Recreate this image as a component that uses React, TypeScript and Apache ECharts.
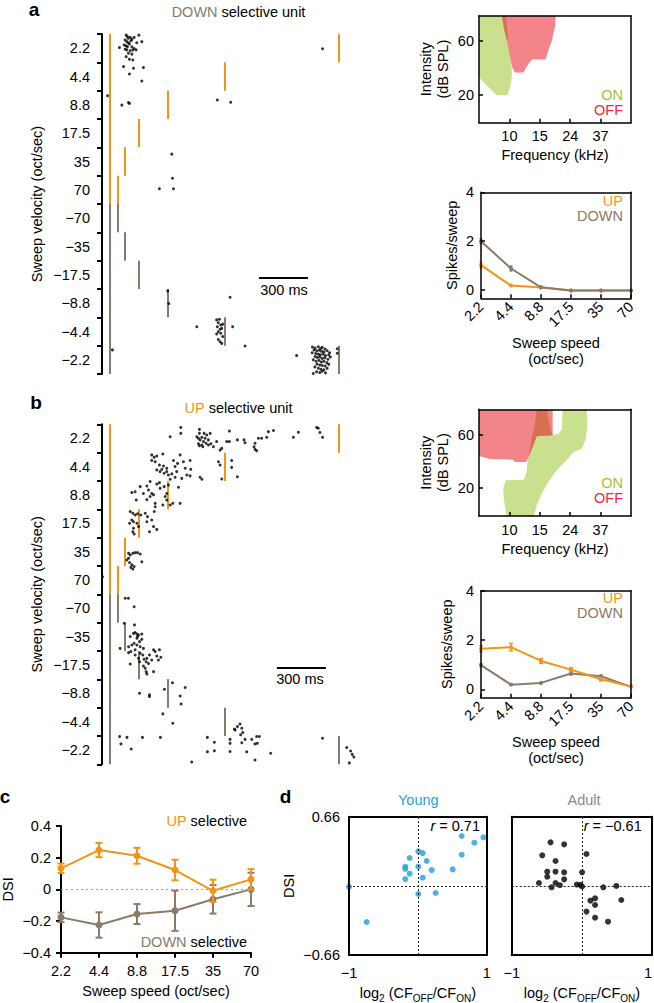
import React, { useEffect, useRef } from 'react';
import * as echarts from 'echarts';

const FONT = '"Liberation Sans", Arial, Helvetica, sans-serif';
const FS = 14.5;
const ORANGE = '#f39419';
const BROWN = '#8b7a69';
const GREEN = '#c9e08e';
const PINK = '#f2848a';
const OVERLAP = '#d96f52';
const ON_GREEN = '#9cc43a';
const OFF_RED = '#eb2a3c';
const BLUE = '#1f9fe0';
const GREY = '#8a8a8a';

// ---------- raster (panels a, b) ----------
const velocityLabels = ['2.2', '4.4', '8.8', '17.5', '35', '70', '−70', '−35', '−17.5', '−8.8', '−4.4', '−2.2'];
const sweepDurationMs = [1400, 700, 350, 175, 87.5, 43.75, 43.75, 87.5, 175, 350, 700, 1400];
const scaleBarMs = 300;
const scaleBarA = [912, 8.6];
const scaleBarB = [1022, 8.6];

// spikes per row: [time ms, position within row 0..1]
const rasterA: number[][][] = [
  [[98, 0.04], [106, 0.09], [123, 0.12], [147, 0.12], [176, 0.04], [92, 0.21], [102, 0.27], [112, 0.31], [127, 0.24], [163, 0.31], [194, 0.27], [86, 0.39], [98, 0.42], [118, 0.35], [133, 0.45], [147, 0.51], [57, 0.48], [102, 0.56], [123, 0.59], [139, 0.56], [159, 0.56], [112, 0.68], [133, 0.71], [98, 0.8], [118, 0.89], [139, 0.92], [110, 0.15], [133, 0.19], [92, 0.54], [106, 0.45], [1302, 0.52]],
  [[82, 0.15], [143, 0.21], [204, 0.18], [118, 0.41], [194, 0.66]],
  [[-16, 0.18], [72, 0.51], [112, 0.42], [118, 0.45], [657, 0.33], [739, 0.41]],
  [],
  [[378, 0.24]],
  [[382, 0.09], [302, 0.46], [388, 0.46]],
  [],
  [],
  [],
  [[353, 0.07], [359, 0.51], [735, 0.29]],
  [[653, 0.09], [670, 0.07], [663, 0.19], [678, 0.27], [690, 0.24], [657, 0.33], [674, 0.42], [684, 0.39], [663, 0.51], [678, 0.56], [690, 0.68], [663, 0.78], [674, 0.86], [684, 0.92], [653, 0.59], [531, 0.33], [751, 0.33]],
  [[827, 0.01], [14, 0.15], [1143, 0.35], [1392, 0.11], [1392, 0.27],
    [1240, 0.05], [1256, 0.08], [1276, 0.04], [1290, 0.1], [1300, 0.06], [1317, 0.12], [1250, 0.15], [1266, 0.18], [1282, 0.16], [1296, 0.2], [1310, 0.22], [1330, 0.18], [1345, 0.25], [1238, 0.25], [1260, 0.28], [1276, 0.3], [1288, 0.32], [1305, 0.3], [1320, 0.35], [1340, 0.33], [1256, 0.38], [1270, 0.42], [1285, 0.4], [1300, 0.45], [1316, 0.43], [1335, 0.48], [1350, 0.4], [1245, 0.5], [1262, 0.55], [1280, 0.52], [1295, 0.58], [1310, 0.55], [1328, 0.6], [1268, 0.65], [1285, 0.68], [1300, 0.7], [1318, 0.72], [1340, 0.66], [1255, 0.75], [1276, 0.8], [1292, 0.83], [1310, 0.85], [1330, 0.8], [1265, 0.92], [1285, 0.95], [1300, 0.9], [1320, 0.96], [1245, 0.98]],
];

const rasterB: number[][][] = [
  [[433, 0.11], [433, 0.32], [368, 0.44], [547, 0.18], [547, 0.32], [531, 0.44], [551, 0.55], [541, 0.69], [562, 0.73], [572, 0.61], [582, 0.49], [592, 0.38], [613, 0.32], [602, 0.55], [617, 0.69], [633, 0.79], [653, 0.61], [674, 0.91], [684, 0.85], [731, 0.24], [715, 0.61], [731, 0.61], [780, 0.55], [821, 0.55], [827, 0.65], [888, 0.67], [882, 0.79], [888, 0.88], [898, 0.93], [909, 0.49], [929, 0.49], [960, 0.46], [970, 0.26], [1001, 0.22], [1123, 0.46], [1154, 0.28], [1266, 0.11], [1276, 0.14], [1286, 0.29], [1302, 0.46], [541, 0.49], [588, 0.67], [602, 0.73], [562, 0.46], [576, 0.32], [547, 0.76], [568, 0.79]],
  [[255, 0.08], [270, 0.16], [286, 0.12], [323, 0.05], [429, 0.08], [255, 0.28], [276, 0.32], [302, 0.44], [327, 0.47], [347, 0.55], [388, 0.28], [398, 0.49], [413, 0.38], [449, 0.32], [490, 0.28], [460, 0.55], [494, 0.59], [470, 0.79], [490, 0.82], [286, 0.61], [306, 0.67], [331, 0.73], [357, 0.79], [378, 0.75], [398, 0.87], [368, 0.94], [439, 0.91], [551, 0.87], [562, 0.94], [664, 0.32], [674, 0.44], [684, 0.93], [745, 0.28], [745, 0.52], [780, 0.85], [317, 0.59], [347, 0.67], [408, 0.67]],
  [[184, 0.2], [225, 0.18], [133, 0.41], [153, 0.38], [204, 0.44], [245, 0.02], [235, 0.32], [255, 0.44], [266, 0.49], [160, 0.67], [225, 0.66], [245, 0.55], [276, 0.79], [286, 0.11], [302, 0.06], [306, 0.26], [331, 0.2], [357, 0.14], [347, 0.44], [419, 0.22], [429, 0.79], [347, 0.67], [368, 0.85], [384, 0.79], [276, 0.91], [323, 0.85], [337, 0.55]],
  [[123, 0.08], [139, 0.14], [153, 0.2], [168, 0.16], [188, 0.2], [133, 0.38], [143, 0.44], [119, 0.49], [164, 0.49], [174, 0.61], [143, 0.67], [139, 0.79], [147, 0.87], [215, 0.14], [229, 0.26], [225, 0.44], [255, 0.38], [266, 0.61], [241, 0.79], [286, 0.71], [270, 0.08]],
  [[113, 0.55], [123, 0.61], [139, 0.55], [153, 0.53], [168, 0.53], [184, 0.58], [194, 0.85], [102, 0.79], [119, 0.88], [133, 0.96], [113, 0.73]],
  [[-47, 0.38], [127, 0.05], [139, 0.11], [147, 0.02]],
  [[92, 0.14], [112, 0.14], [147, 0.44]],
  [[86, 0.02], [149, 0.08], [143, 0.38], [153, 0.35], [164, 0.4], [174, 0.44], [194, 0.4], [123, 0.49], [164, 0.55], [180, 0.67], [194, 0.59], [133, 0.79], [147, 0.73], [164, 0.79], [61, 0.91], [184, 0.85], [204, 0.91], [153, 0.96], [113, 0.85], [168, 0.49], [266, 0.96], [302, 0.96]],
  [[113, 0.06], [127, 0.02], [184, 0.08], [200, 0.14], [225, 0.26], [241, 0.14], [276, 0.02], [286, 0.18], [311, 0.22], [296, 0.32], [255, 0.32], [208, 0.29], [221, 0.38], [235, 0.44], [204, 0.53], [215, 0.61], [221, 0.73], [225, 0.81], [266, 0.73], [123, 0.46], [174, 0.26], [153, 0.14], [180, 0.38]],
  [[333, 0.35], [382, 0.12], [460, 0.29], [429, 0.59], [435, 0.87], [180, 0.49], [241, 0.55], [241, 0.61]],
  [[323, 0.22], [384, 0.55], [766, 0.79], [780, 0.67], [796, 0.58], [807, 0.73], [813, 0.88], [800, 0.96], [762, 0.76]],
  [[58, 0.02], [103, 0.05], [66, 0.28], [129, 0.46], [198, 0.05], [308, 0.05], [500, 0.92], [596, 0.05], [596, 0.56], [639, 0.22], [639, 0.52], [735, 0.12], [735, 0.26], [735, 0.55], [807, 0.24], [827, 0.12], [837, 0.56], [868, 0.12], [898, 0.02], [915, 0.02], [888, 0.28], [902, 0.26], [888, 0.85], [984, 0.61], [1302, 0.08], [1450, 0.41], [1474, 0.53], [1484, 0.65], [1494, 0.74], [1466, 0.95]],
];

// ---------- tuning curves (frequency position, dB SPL) ----------
const freqTickPos = [1, 2, 3, 4];
const freqTickLabels = ['10', '15', '24', '37'];
const dbTicks = [20, 60];

const onAreaA = [[0, 79], [0.888, 79], [0.921, 70.75], [0.954, 61.25], [0.998, 53.25], [1.053, 44.5], [1.086, 37], [1.064, 30.75], [1.02, 25.25], [0.932, 19.5], [0.58, 19.5], [0.417, 23.25], [0.25, 27], [0.088, 30.75], [0, 32.75]];
const offAreaA = [[0.757, 79], [2.522, 79], [2.51, 72], [2.445, 65.75], [2.39, 59.5], [2.28, 53.25], [2.193, 46.25], [1.754, 46.25], [1.678, 44.5], [1.568, 40.75], [1.458, 36.5], [1.184, 36.5], [1.107, 39.5], [1.042, 45.75], [0.976, 53.25], [0.91, 61.25], [0.822, 69.5], [0.779, 75.75]];
const bothAreaA = [[0.757, 79], [0.888, 79], [0.921, 70.75], [0.954, 61.25], [0.91, 61.25], [0.822, 69.5], [0.779, 75.75]];

const offAreaB = [[0, 78.75], [2.423, 78.75], [2.423, 59.5], [1.897, 58.75], [1.787, 52], [1.645, 43.75], [1.546, 39.5], [1.184, 39.5], [1.107, 41.25], [0.362, 41.75], [0.033, 43.75], [0, 43.75]];
const onAreaB = [[1.897, 78.75], [2.226, 78.75], [2.357, 63.25], [2.445, 59.5], [2.61, 60.75], [2.72, 63.75], [2.752, 78.75], [3.542, 78.75], [3.564, 68.25], [3.52, 57], [3.377, 49.5], [3.103, 47], [2.884, 40.75], [2.555, 33.25], [2.28, 24.5], [2.061, 15.75], [1.897, 7], [1.809, -1], [0.91, -1], [0.822, 10.75], [0.8, 20.25], [0.888, 25.75], [1.48, 26.25], [1.568, 32], [1.601, 43.25], [1.699, 53.25], [1.82, 65.75]];
const bothAreaB = [[1.897, 78.75], [2.226, 78.75], [2.357, 63.25], [2.423, 59.5], [1.897, 58.75], [1.787, 52], [1.645, 43.75], [1.699, 53.25], [1.82, 65.75]];

// ---------- spikes / sweep ----------
const speedLabels = ['2.2', '4.4', '8.8', '17.5', '35', '70'];
const spikeTicks = [0, 2, 4];
const upSpikesA = [1.02, 0.18, 0.1, -0.02, -0.02, -0.02];
const upSpikesAErr = [0.12, 0.03, 0.02, 0.01, 0.01, 0.01];
const downSpikesA = [2.0, 0.88, 0.11, -0.02, -0.02, -0.02];
const downSpikesAErr = [0.1, 0.1, 0.03, 0.01, 0.01, 0.01];
const upSpikesB = [1.65, 1.71, 1.15, 0.8, 0.41, 0.12];
const upSpikesBErr = [0.12, 0.15, 0.1, 0.08, 0.07, 0.03];
const downSpikesB = [0.98, 0.19, 0.26, 0.64, 0.53, 0.1];
const downSpikesBErr = [0.06, 0.03, 0.03, 0.06, 0.05, 0.02];

// ---------- DSI (panel c) ----------
const dsiUp = [0.133, 0.248, 0.212, 0.122, -0.009, 0.063];
const dsiUpErr = [0.03, 0.045, 0.05, 0.065, 0.07, 0.065];
const dsiDown = [-0.177, -0.225, -0.156, -0.135, -0.063, 0];
const dsiDownErr = [0.03, 0.08, 0.063, 0.127, 0.09, 0.105];

// ---------- DSI vs CF (panel d) ----------
const youngPts = [[-1.0, -0.01], [-0.743, -0.345], [0.637, 0.476], [0.821, 0.412], [0.952, 0.463], [0.637, 0.297], [0.506, 0.157], [0.259, -0.068], [0.007, 0.329], [0.07, 0.313], [0.128, 0.237], [0.007, 0.183], [0.201, 0.151], [0.07, 0.078], [0.007, -0.078], [-0.119, 0.266], [-0.182, 0.183], [-0.182, 0.161], [-0.119, 0.116], [-0.182, 0.065]];
const adultPts = [[-0.447, 0.415], [-0.253, 0.396], [-0.565, 0.291], [-0.376, 0.237], [0.064, 0.304], [-0.494, 0.135], [-0.376, 0.135], [-0.253, 0.129], [-0.494, 0.087], [0.002, 0.129], [-0.253, 0.062], [-0.612, 0.027], [-0.376, 0.027], [-0.433, -0.014], [-0.314, 0.006], [-0.073, 0.012], [0.002, -0.006], [-0.02, 0.01], [0.305, -0.014], [0.489, -0.001], [0.56, -0.135], [0.187, -0.119], [0.121, -0.141], [0.187, -0.183], [0.064, -0.246], [0.187, -0.304], [0.371, -0.342]];
const youngR = '0.71';
const adultR = '−0.61';

// ---------- helpers ----------
const blk = '#000';
const lblStyle = (extra: any = {}) => ({ color: blk, fontSize: FS, fontFamily: FONT, ...extra });
const nameStyle = (extra: any = {}) => ({ color: blk, fontSize: FS, fontFamily: FONT, ...extra });
const fmtMinus = (s: string) => s.replace('-', '−');

const frameAxis = (gridIndex: number, position: string, width = 1.5) => ({
  gridIndex, type: 'value', position, min: 0, max: 1, z: 10,
  axisLine: { show: true, onZero: false, lineStyle: { color: blk, width } },
  axisTick: { show: false }, axisLabel: { show: false }, splitLine: { show: false },
});

const rasterPoints = (rows: number[][][]) => rows.flatMap((row, r) => row.map(([t, f]) => [t, r + f]));
const stimLines = () => {
  const out: any[] = [
    { coords: [[0, 0], [0, 6]], lineStyle: { color: ORANGE } },
    { coords: [[0, 6], [0, 12]], lineStyle: { color: BROWN } },
  ];
  sweepDurationMs.forEach((d, r) => out.push({ coords: [[d, r], [d, r + 1]], lineStyle: { color: r < 6 ? ORANGE : BROWN } }));
  return out;
};

const rasterSeries = (rows: number[][][], xi: number, yi: number, bar: number[]) => [
  { type: 'lines', coordinateSystem: 'cartesian2d', xAxisIndex: xi, yAxisIndex: yi, silent: true, z: 2,
    lineStyle: { width: 2, opacity: 1, curveness: 0 }, data: stimLines() },
  { type: 'lines', coordinateSystem: 'cartesian2d', xAxisIndex: xi, yAxisIndex: yi, silent: true, z: 2,
    lineStyle: { width: 2, opacity: 1, color: blk, curveness: 0 },
    data: [{ coords: [[bar[0], bar[1]], [bar[0] + scaleBarMs, bar[1]]] }] },
  { type: 'scatter', xAxisIndex: xi, yAxisIndex: yi, silent: true, z: 3, symbol: 'circle', symbolSize: 3,
    itemStyle: { color: blk }, data: rasterPoints(rows) },
];

const polySeries = (verts: number[][], color: string, xi: number, yi: number, z: number) => ({
  type: 'custom', xAxisIndex: xi, yAxisIndex: yi, silent: true, z,
  data: [[verts[0][0], verts[0][1]]],
  renderItem: (_p: any, api: any) => ({
    type: 'polygon', shape: { points: verts.map((v) => api.coord(v)) }, style: { fill: color },
  }),
});

const errSeries = (vals: number[], errs: number[], color: string, xi: number, yi: number, cap: number, lw: number, z: number) => ({
  type: 'custom', xAxisIndex: xi, yAxisIndex: yi, silent: true, z,
  data: vals.map((v, i) => [i, v, errs[i]]),
  encode: { x: 0, y: 1 },
  renderItem: (_p: any, api: any) => {
    const x = api.value(0), y = api.value(1), e = api.value(2);
    const p1 = api.coord([x, y + e]);
    const p2 = api.coord([x, y - e]);
    const st = { stroke: color, lineWidth: lw };
    return {
      type: 'group', children: [
        { type: 'line', shape: { x1: p1[0], y1: p1[1], x2: p2[0], y2: p2[1] }, style: st },
        { type: 'line', shape: { x1: p1[0] - cap, y1: p1[1], x2: p1[0] + cap, y2: p1[1] }, style: st },
        { type: 'line', shape: { x1: p2[0] - cap, y1: p2[1], x2: p2[0] + cap, y2: p2[1] }, style: st },
      ],
    };
  },
});

const lineSeries = (vals: number[], color: string, xi: number, yi: number, size: number, z: number, extra: any = {}) => ({
  type: 'line', xAxisIndex: xi, yAxisIndex: yi, silent: true, z, data: vals,
  symbol: 'circle', symbolSize: size, showSymbol: true,
  lineStyle: { color, width: 2 }, itemStyle: { color }, ...extra,
});

const T = (x: number, y: number, text: string, o: any = {}) => ({
  type: 'text', x, y, silent: true, z: 100,
  style: {
    text, fill: o.fill || blk,
    font: `${o.italic ? 'italic ' : ''}${o.weight || 'normal'} ${o.size || FS}px ${FONT}`,
    align: o.align || 'center', verticalAlign: 'middle',
    textAlign: o.align || 'center', textVerticalAlign: 'middle',
    rich: o.rich,
  },
});
const richTok = (fill: string, extra: any = {}) => ({ fill, color: fill, fontSize: FS, fontFamily: FONT, ...extra });

// ---------- axes ----------
const rasterY = (gi: number) => [
  { gridIndex: gi, type: 'value', min: 0, max: 12, interval: 1, inverse: true,
    axisLine: { show: true, onZero: false, lineStyle: { color: blk, width: 2 } },
    axisTick: { show: true, length: 5, lineStyle: { color: blk, width: 2 } },
    axisLabel: { show: false }, splitLine: { show: false } },
  { gridIndex: gi, type: 'category', data: velocityLabels, inverse: true, position: 'left',
    axisLine: { show: false }, axisTick: { show: false }, splitLine: { show: false },
    axisLabel: lblStyle({ margin: 12, padding: [6, 0, 0, 0] }),
    name: 'Sweep velocity (oct/sec)', nameLocation: 'middle', nameGap: 58, nameRotate: 90, nameTextStyle: nameStyle() },
];
const rasterX = (gi: number) => ({ gridIndex: gi, type: 'value', min: -50, max: 1550, show: false });

const tuningX = (gi: number) => ({
  gridIndex: gi, type: 'value', min: 0, max: 5, z: 10,
  axisLine: { show: true, onZero: false, lineStyle: { color: blk, width: 1.5 } },
  axisTick: { show: true, inside: true, length: 4, customValues: freqTickPos, lineStyle: { color: blk, width: 1.5 } },
  axisLabel: lblStyle({ margin: 6, customValues: freqTickPos, formatter: (v: number) => freqTickLabels[freqTickPos.indexOf(v)] }),
  splitLine: { show: false },
  name: 'Frequency (kHz)', nameLocation: 'middle', nameGap: 25, nameTextStyle: nameStyle(),
});
const tuningY = (gi: number) => ({
  gridIndex: gi, type: 'value', min: -1, max: 79, z: 10,
  axisLine: { show: true, onZero: false, lineStyle: { color: blk, width: 1.5 } },
  axisTick: { show: true, inside: true, length: 4, customValues: dbTicks, lineStyle: { color: blk, width: 1.5 } },
  axisLabel: lblStyle({ margin: 5, customValues: dbTicks }),
  splitLine: { show: false },
  name: 'Intensity\n(dB SPL)', nameLocation: 'middle', nameGap: 28, nameRotate: 90,
  nameTextStyle: nameStyle({ lineHeight: 17 }),
});
const spikesX = (gi: number) => ({
  gridIndex: gi, type: 'category', data: speedLabels, boundaryGap: false, z: 10,
  axisLine: { show: true, onZero: false, lineStyle: { color: blk, width: 1.5 } },
  axisTick: { show: true, inside: true, length: 4, lineStyle: { color: blk, width: 1.5 } },
  axisLabel: lblStyle({ margin: 6, rotate: 45, interval: 0 }),
  splitLine: { show: false },
  name: 'Sweep speed\n(oct/sec)', nameLocation: 'middle', nameGap: 36, nameTextStyle: nameStyle({ lineHeight: 16.5 }),
});
const spikesY = (gi: number, gap: number) => ({
  gridIndex: gi, type: 'value', min: -0.34, max: 4, z: 10,
  axisLine: { show: true, onZero: false, lineStyle: { color: blk, width: 1.5 } },
  axisTick: { show: true, inside: true, length: 4, customValues: spikeTicks, lineStyle: { color: blk, width: 1.5 } },
  axisLabel: lblStyle({ margin: 7, customValues: spikeTicks }),
  splitLine: { show: false },
  name: 'Spikes/sweep', nameLocation: 'middle', nameGap: gap, nameRotate: 90, nameTextStyle: nameStyle(),
});

const cfName = '{n|log}{s|2}{n| (CF}{s|OFF}{n|/CF}{s|ON}{n|)}';
const cfRich = {
  n: { fontSize: FS, fontFamily: FONT, color: blk, lineHeight: 20 },
  s: { fontSize: 10, fontFamily: FONT, color: blk, verticalAlign: 'bottom', lineHeight: 11 },
};
const dX = (gi: number, alignMax: string) => ({
  gridIndex: gi, type: 'value', min: -1, max: 1, z: 10,
  axisLine: { show: true, onZero: false, lineStyle: { color: blk, width: 2 } },
  axisTick: { show: false },
  axisLabel: lblStyle({ margin: 10, customValues: [-1, 1], alignMaxLabel: alignMax, formatter: (v: number) => fmtMinus(String(v)) }),
  splitLine: { show: false },
  name: cfName, nameLocation: 'middle', nameGap: 28, nameTextStyle: nameStyle({ rich: cfRich }),
});
const dY = (gi: number, labels: boolean) => ({
  gridIndex: gi, type: 'value', min: -0.66, max: 0.66, z: 10,
  axisLine: { show: true, onZero: false, lineStyle: { color: blk, width: 2 } },
  axisTick: { show: true, inside: true, length: 3, customValues: [-0.66, 0.66], lineStyle: { color: blk, width: 1.5 } },
  axisLabel: labels ? lblStyle({ margin: 9, customValues: [-0.66, 0.66], formatter: (v: number) => fmtMinus(v.toFixed(2)) }) : { show: false },
  splitLine: { show: false },
  ...(labels ? { name: 'DSI', nameLocation: 'middle', nameGap: 53, nameRotate: 90, nameTextStyle: nameStyle() } : {}),
});

const zeroMark = (color: string, type: any) => ({
  silent: true, symbol: ['none', 'none'], label: { show: false },
  lineStyle: { color, width: 1, type }, emphasis: { disabled: true },
});

function buildOption(): any {
  const gridBase = { containLabel: false, outerBoundsMode: 'none', show: false };
  const grid = [
    { left: 102, top: 34, width: 261, height: 340 },
    { left: 479, top: 15.7, width: 152, height: 107 },
    { left: 481, top: 192.3, width: 150, height: 106 },
    { left: 102, top: 424.3, width: 261, height: 340 },
    { left: 479, top: 409.3, width: 152, height: 106.7 },
    { left: 481, top: 590.7, width: 150, height: 107 },
    { left: 61, top: 826, width: 190, height: 126.7 },
    { left: 349, top: 816.7, width: 137.7, height: 138.3 },
    { left: 511.7, top: 816.7, width: 140.5, height: 138.3 },
  ].map((g) => ({ ...gridBase, ...g }));

  const xAxis = [
    rasterX(0),
    tuningX(1), frameAxis(1, 'top'),
    spikesX(2), frameAxis(2, 'top'),
    rasterX(3),
    tuningX(4), frameAxis(4, 'top'),
    spikesX(5), frameAxis(5, 'top'),
    {
      gridIndex: 6, type: 'category', data: speedLabels, boundaryGap: false,
      axisLine: { show: true, onZero: false, lineStyle: { color: blk, width: 2 } },
      axisTick: { show: true, length: 5, lineStyle: { color: blk, width: 2 } },
      axisLabel: lblStyle({ margin: 11, interval: 0 }), splitLine: { show: false },
      name: 'Sweep speed (oct/sec)', nameLocation: 'middle', nameGap: 31, nameTextStyle: nameStyle(),
    },
    dX(7, 'center'), frameAxis(7, 'top', 2),
    dX(8, 'right'), frameAxis(8, 'top', 2),
  ];
  const yAxis = [
    ...rasterY(0),
    tuningY(1), frameAxis(1, 'right'),
    spikesY(2, 22), frameAxis(2, 'right'),
    ...rasterY(3),
    tuningY(4), frameAxis(4, 'right'),
    spikesY(5, 27), frameAxis(5, 'right'),
    {
      gridIndex: 6, type: 'value', min: -0.4, max: 0.4, interval: 0.2,
      axisLine: { show: true, onZero: false, lineStyle: { color: blk, width: 2 } },
      axisTick: { show: true, length: 5, lineStyle: { color: blk, width: 2 } },
      axisLabel: lblStyle({ margin: 10, formatter: (v: number) => (Math.abs(v) < 1e-9 ? '0' : fmtMinus(v.toFixed(1))) }),
      splitLine: { show: false },
      name: 'DSI', nameLocation: 'middle', nameGap: 46, nameRotate: 90, nameTextStyle: nameStyle(),
    },
    dY(7, true), frameAxis(7, 'right', 2),
    dY(8, false), frameAxis(8, 'right', 2),
  ];

  const series: any[] = [
    ...rasterSeries(rasterA, 0, 0, scaleBarA),
    polySeries(onAreaA, GREEN, 1, 2, 1),
    polySeries(offAreaA, PINK, 1, 2, 1),
    polySeries(bothAreaA, OVERLAP, 1, 2, 1),
    errSeries(upSpikesA, upSpikesAErr, ORANGE, 3, 4, 1.5, 1.5, 2),
    lineSeries(upSpikesA, ORANGE, 3, 4, 4, 3),
    errSeries(downSpikesA, downSpikesAErr, BROWN, 3, 4, 1.5, 1.5, 4),
    lineSeries(downSpikesA, BROWN, 3, 4, 4, 5),
    ...rasterSeries(rasterB, 5, 6, scaleBarB),
    polySeries(onAreaB, GREEN, 6, 8, 1),
    polySeries(offAreaB, PINK, 6, 8, 1),
    polySeries(bothAreaB, OVERLAP, 6, 8, 1),
    errSeries(downSpikesB, downSpikesBErr, BROWN, 8, 10, 1.5, 1.5, 2),
    lineSeries(downSpikesB, BROWN, 8, 10, 4, 3),
    errSeries(upSpikesB, upSpikesBErr, ORANGE, 8, 10, 2, 1.5, 4),
    lineSeries(upSpikesB, ORANGE, 8, 10, 4, 5),
    errSeries(dsiDown, dsiDownErr, BROWN, 10, 12, 3.5, 2, 2),
    lineSeries(dsiDown, BROWN, 10, 12, 7, 3, {
      markLine: { ...zeroMark('#9a9a9a', [2, 3]), data: [{ yAxis: 0 }] },
    }),
    errSeries(dsiUp, dsiUpErr, ORANGE, 10, 12, 3.5, 2, 4),
    lineSeries(dsiUp, ORANGE, 10, 12, 7, 5),
    {
      type: 'scatter', xAxisIndex: 11, yAxisIndex: 13, silent: true, z: 3, symbolSize: 6,
      itemStyle: { color: BLUE }, data: youngPts,
      markLine: { ...zeroMark('#222', [2, 2]), data: [{ xAxis: 0 }, { yAxis: 0 }] },
    },
    {
      type: 'scatter', xAxisIndex: 13, yAxisIndex: 15, silent: true, z: 3, symbolSize: 6,
      itemStyle: { color: blk }, data: adultPts,
      markLine: { ...zeroMark('#222', [2, 2]), data: [{ xAxis: 0 }, { yAxis: 0 }] },
    },
  ];

  const graphic = [
    T(34, 9, 'a', { size: 19, weight: 'bold' }),
    T(238.5, 12, '{c|DOWN} selective unit', { rich: { c: richTok(BROWN) } }),
    T(284, 290, '300 ms'),
    T(623, 95, 'ON', { align: 'right', fill: ON_GREEN }),
    T(623, 110, 'OFF', { align: 'right', fill: OFF_RED }),
    T(623, 201, 'UP', { align: 'right', fill: ORANGE }),
    T(623, 215.5, 'DOWN', { align: 'right', fill: BROWN }),
    T(36, 402, 'b', { size: 19, weight: 'bold' }),
    T(238.5, 408, '{c|UP} selective unit', { rich: { c: richTok(ORANGE) } }),
    T(300, 679, '300 ms'),
    T(623, 482.8, 'ON', { align: 'right', fill: ON_GREEN }),
    T(623, 497.8, 'OFF', { align: 'right', fill: OFF_RED }),
    T(623, 598, 'UP', { align: 'right', fill: ORANGE }),
    T(623, 612.8, 'DOWN', { align: 'right', fill: BROWN }),
    T(5, 796, 'c', { size: 19, weight: 'bold' }),
    T(247, 821, '{c|UP} selective', { align: 'right', rich: { c: richTok(ORANGE) } }),
    T(247, 941.7, '{c|DOWN} selective', { align: 'right', rich: { c: richTok(BROWN) } }),
    T(285.6, 796, 'd', { size: 19, weight: 'bold' }),
    T(418.3, 800, 'Young', { fill: BLUE }),
    T(584, 800, 'Adult', { fill: GREY }),
    T(480, 826, `{i|r} = ${youngR}`, { align: 'right', rich: { i: richTok(blk, { fontStyle: 'italic' }) } }),
    T(641.7, 826, `{i|r} = ${adultR}`, { align: 'right', rich: { i: richTok(blk, { fontStyle: 'italic' }) } }),
  ];

  return { animation: false, backgroundColor: '#fff', grid, xAxis, yAxis, series, graphic };
}

export default function App() {
  const ref = useRef<HTMLDivElement>(null);
  useEffect(() => {
    const chart = echarts.init(ref.current as HTMLDivElement, undefined, { renderer: 'svg' });
    chart.setOption(buildOption());
    return () => chart.dispose();
  }, []);
  return <div ref={ref} style={{ position: 'absolute', left: 0, top: 0, width: 654, height: 1003, background: '#fff' }} />;
}
